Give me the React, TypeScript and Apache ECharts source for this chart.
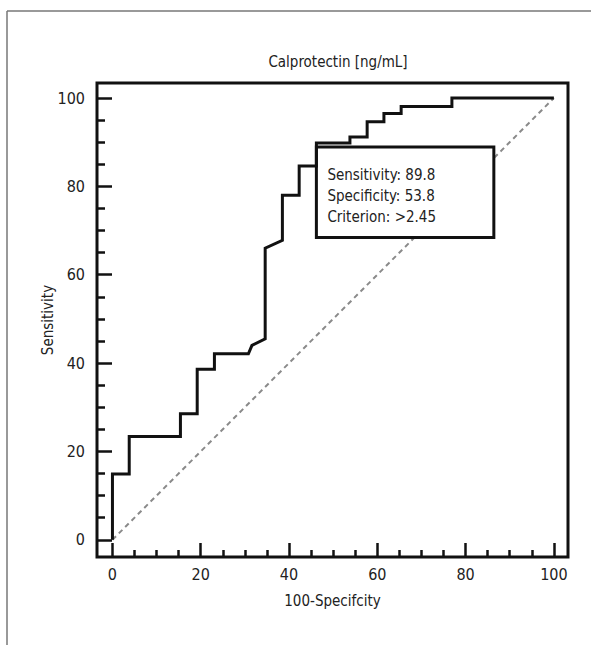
import React, { useEffect, useRef } from "react";
import * as echarts from "echarts";

const rocX = [0, 0, 3.8, 3.8, 15.4, 15.4, 19.2, 19.2, 23.1, 23.1, 30.8, 31.6, 34.6, 34.6, 38.5, 38.5, 42.3, 42.3, 46.2, 46.2, 53.8, 53.8, 57.7, 57.7, 61.5, 61.5, 65.4, 65.4, 76.9, 76.9, 100];
const rocY = [0, 14.9, 14.9, 23.4, 23.4, 28.5, 28.5, 38.6, 38.6, 42.1, 42.1, 44.0, 45.5, 66.0, 67.8, 78.0, 78.0, 84.6, 84.6, 89.8, 89.8, 91.2, 91.2, 94.6, 94.6, 96.5, 96.5, 98.1, 98.1, 100, 100];
const diagX = [0, 100];
const diagY = [0, 100];
const majorTicks = [0, 20, 40, 60, 80, 100];
const minorTicks = [5, 10, 15, 25, 30, 35, 45, 50, 55, 65, 70, 75, 85, 90, 95];
const boxCorners = [46.2, 88.9, 86.4, 68.4];
const boxLines = ["Sensitivity: 89.8", "Specificity: 53.8", "Criterion: >2.45"];
const titleText = "Calprotectin [ng/mL]";
const xName = "100-Specifcity";
const yName = "Sensitivity";

const FONT = "'Liberation Sans Narrow', 'DejaVu Sans Condensed', 'Roboto Condensed', sans-serif";
const INK = "#111";

export default function App() {
  const ref = useRef<HTMLDivElement>(null);
  useEffect(() => {
    if (!ref.current) return;
    const chart = echarts.init(ref.current, undefined, { renderer: "svg" });
    const axisCommon = (isX: boolean) => ({
      type: "value" as const,
      min: isX ? -3.5 : -3.9,
      max: isX ? 103.2 : 103.4,
      axisLine: { show: false, onZero: false },
      splitLine: { show: false },
    });
    chart.setOption({
      animation: false,
      backgroundColor: "#fff",
      title: {
        text: titleText,
        left: 333,
        top: 49,
        textAlign: "center",
        textStyle: { fontFamily: FONT, fontSize: 15, fontWeight: "normal", color: "#222" },
      },
      grid: {
        left: 97,
        top: 83,
        right: 23,
        bottom: 88,
        show: true,
        borderColor: INK,
        borderWidth: 3,
        backgroundColor: "transparent",
      },
      xAxis: [
        {
          ...axisCommon(true),
          position: "bottom",
          name: xName,
          nameLocation: "middle",
          nameGap: 36,
          nameMoveOverlap: false,
          nameTextStyle: { fontFamily: FONT, fontSize: 15, color: "#222" },
          axisTick: { show: true, inside: true, length: 14, customValues: majorTicks, lineStyle: { width: 2.5, color: INK } },
          axisLabel: { customValues: majorTicks, margin: 9, fontFamily: FONT, fontSize: 16, color: "#222" },
        },
        {
          ...axisCommon(true),
          position: "bottom",
          axisTick: { show: true, inside: true, length: 7, customValues: minorTicks, lineStyle: { width: 2.5, color: INK } },
          axisLabel: { show: false },
        },
      ],
      yAxis: [
        {
          ...axisCommon(false),
          position: "left",
          name: yName,
          nameLocation: "middle",
          nameGap: 42,
          nameMoveOverlap: false,
          nameTextStyle: { fontFamily: FONT, fontSize: 15, color: "#222" },
          axisTick: { show: true, inside: true, length: 15, customValues: majorTicks, lineStyle: { width: 2.5, color: INK } },
          axisLabel: { customValues: majorTicks, margin: 12, fontFamily: FONT, fontSize: 16, color: "#222" },
        },
        {
          ...axisCommon(false),
          position: "left",
          axisTick: { show: true, inside: true, length: 8, customValues: minorTicks, lineStyle: { width: 2.5, color: INK } },
          axisLabel: { show: false },
        },
      ],
      graphic: [
        { type: "line", shape: { x1: 7, y1: 11, x2: 591, y2: 11 }, style: { stroke: "#777", lineWidth: 1.5 } },
        { type: "line", shape: { x1: 7, y1: 11, x2: 7, y2: 645 }, style: { stroke: "#777", lineWidth: 1.5 } },
      ],
      series: [
        {
          type: "line",
          xAxisIndex: 0,
          yAxisIndex: 0,
          data: diagX.map((x, i) => [x, diagY[i]]),
          symbol: "none",
          lineStyle: { color: "#8a8a8a", width: 2, type: [5, 4] },
          z: 2,
        },
        {
          type: "custom",
          xAxisIndex: 0,
          yAxisIndex: 0,
          data: [boxCorners],
          z: 3,
          renderItem: (params: any, api: any) => {
            const p1 = api.coord([api.value(0), api.value(1)]);
            const p2 = api.coord([api.value(2), api.value(3)]);
            return {
              type: "group",
              children: [
                {
                  type: "rect",
                  shape: { x: p1[0], y: p1[1], width: p2[0] - p1[0], height: p2[1] - p1[1] },
                  style: { fill: "#fff", stroke: INK, lineWidth: 3 },
                },
                {
                  type: "text",
                  style: {
                    x: p1[0] + 11,
                    y: p1[1] + 49,
                    text: boxLines.join("\n"),
                    fontFamily: FONT,
                    fontSize: 15,
                    lineHeight: 21,
                    fill: "#222",
                    verticalAlign: "middle",
                    align: "left",
                  },
                },
              ],
            };
          },
        },
        {
          type: "line",
          xAxisIndex: 0,
          yAxisIndex: 0,
          data: rocX.map((x, i) => [x, rocY[i]]),
          symbol: "none",
          lineStyle: { color: INK, width: 3, join: "miter" },
          z: 4,
        },
      ],
    });
    return () => chart.dispose();
  }, []);
  return <div ref={ref} style={{ position: "fixed", left: 0, top: 0, width: 591, height: 645, background: "#fff" }} />;
}
